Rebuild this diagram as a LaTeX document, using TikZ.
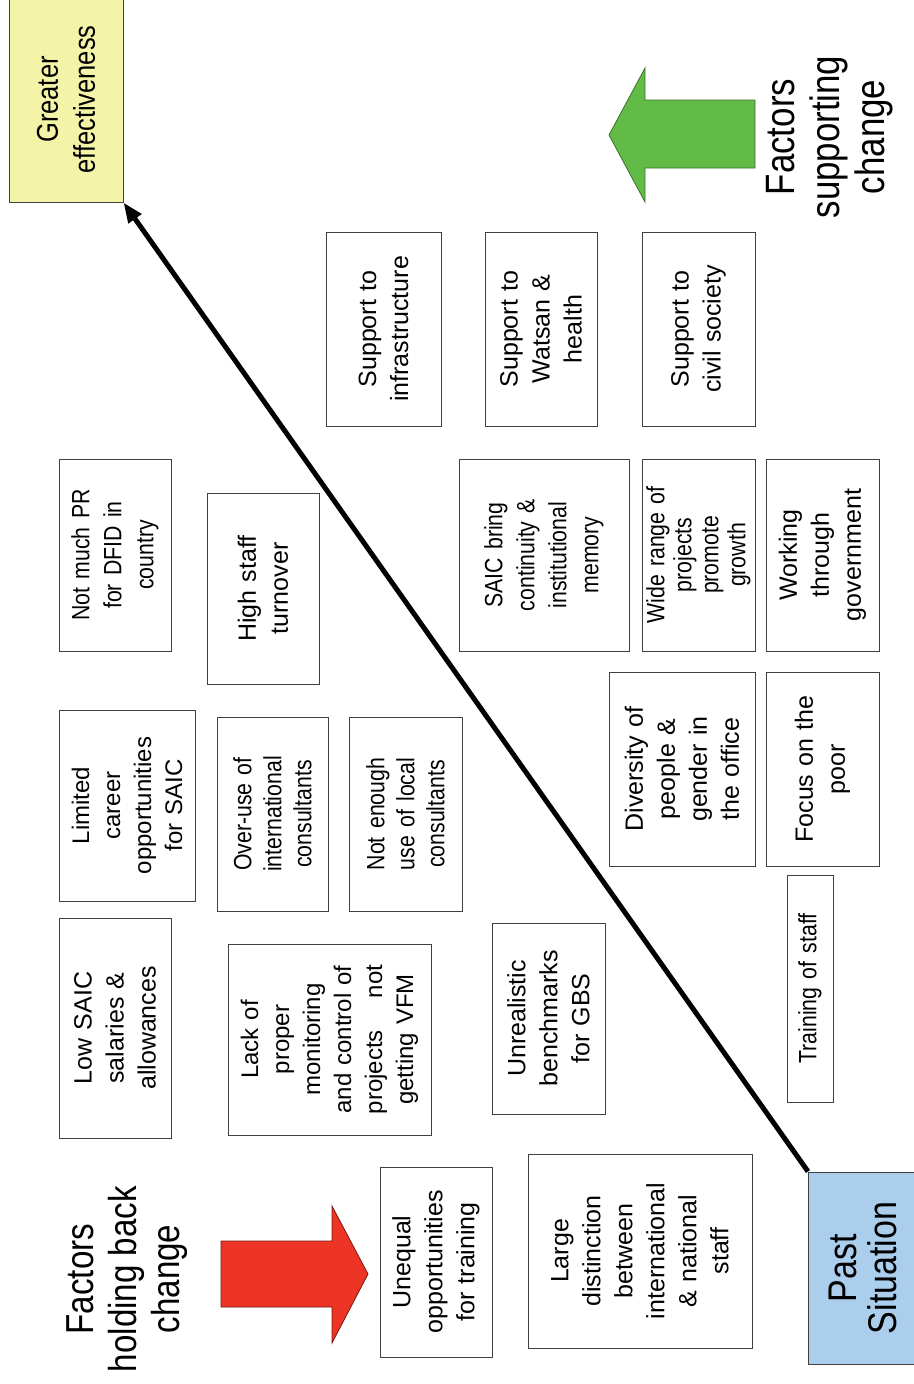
\documentclass[tikz,border=0pt]{standalone}
\usepackage{fontspec}
\setmainfont{Liberation Sans}
\newfontfamily\narrowfont[FakeStretch=0.85]{Liberation Sans}
\usetikzlibrary{arrows.meta}
\definecolor{goalyellow}{RGB}{244,244,168}
\definecolor{pastblue}{RGB}{170,206,236}
\definecolor{supgreen}{RGB}{98,187,70}
\definecolor{holdred}{RGB}{238,52,36}
\definecolor{boxgray}{RGB}{64,64,64}

\begin{document}
\begin{tikzpicture}[x=1pt,y=-1pt,>={Triangle[length=20pt,width=15pt]},
  factor/.style={draw=boxgray,line width=1pt,rotate=90,align=center,inner sep=2pt,font=\fontsize{25}{32}\selectfont},
  narrow/.style={font=\narrowfont\fontsize{25}{#1}\selectfont},
  heading/.style={rotate=90,align=center,inner sep=0pt}]
\useasboundingbox (0,0) rectangle (913,1384);

% start and goal
\node[factor,fill=goalyellow,minimum width=205pt,minimum height=114pt,text width=190pt,font=\narrowfont\fontsize{30}{37}\selectfont] (goal) at (66,99.5) {Greater\\effectiveness};
\node[factor,fill=pastblue,minimum width=192pt,minimum height=108pt,text width=180pt,font=\narrowfont\fontsize{40}{40}\selectfont] (past) at (862.5,1268) {Past\\Situation};
\draw[->,line width=5pt] (past.north east) -- (goal.south west);

% the two block arrows
\draw[draw=supgreen!60!black,line width=0.8pt,fill=supgreen] (755,100) -- (645,100) -- (645,68) -- (609,135) -- (645,202) -- (645,168) -- (755,168) -- cycle;
\draw[draw=holdred!50!black,line width=0.8pt,fill=holdred] (221,1241) -- (332,1241) -- (332,1206) -- (368,1274) -- (332,1343) -- (332,1307) -- (221,1307) -- cycle;
\node[heading,font=\narrowfont\fontsize{41}{45}\selectfont] (supporting) at (830,137) {Factors\\supporting\\change};
\node[heading,font=\narrowfont\fontsize{39}{43}\selectfont] (holding) at (127,1279) {Factors\\holding back\\change};

% factors supporting change
\node[factor,minimum width=194pt,minimum height=115pt,text width=184pt] (infra) at (383.5,329) {Support to\\infrastructure};
\node[factor,minimum width=194pt,minimum height=112pt,text width=184pt] (watsan) at (541,329) {Support to\\Watsan \&\\health};
\node[factor,minimum width=194pt,minimum height=113pt,text width=184pt] (civil) at (698.5,329) {Support to\\civil society};
\node[factor,narrow=32,minimum width=192pt,minimum height=170pt,text width=182pt] (memory) at (544,555) {SAIC bring\\continuity \&\\institutional\\memory};
\node[factor,narrow=27,minimum width=192pt,minimum height=113pt,text width=182pt] (growth) at (698.5,555) {Wide range of\\projects\\promote\\growth};
\node[factor,minimum width=192pt,minimum height=113pt,text width=182pt] (govt) at (822.5,555) {Working\\through\\government};
\node[factor,minimum width=194pt,minimum height=146pt,text width=184pt] (diversity) at (682,769) {Diversity of\\people \&\\gender in\\the office};
\node[factor,minimum width=194pt,minimum height=113pt,text width=184pt] (poor) at (822.5,769) {Focus on the\\poor};
\node[factor,narrow=26,minimum width=227pt,minimum height=46pt,text width=217pt] (training) at (810,988.5) {Training of staff};

% factors holding back change
\node[factor,narrow=32,minimum width=192pt,minimum height=112pt,text width=182pt] (pr) at (115,555) {Not much PR\\for DFID in\\country};
\node[factor,minimum width=191pt,minimum height=112pt,text width=181pt] (turnover) at (263,588.5) {High staff\\turnover};
\node[factor,minimum width=191pt,minimum height=136pt,text width=181pt,font=\fontsize{24}{31}\selectfont] (career) at (127,805.5) {Limited\\career\\opportunities\\for SAIC};
\node[factor,narrow=30,minimum width=194pt,minimum height=111pt,text width=184pt] (overuse) at (272.5,814) {Over-use of\\international\\consultants};
\node[factor,narrow=30,minimum width=194pt,minimum height=113pt,text width=184pt] (local) at (405.5,814) {Not enough\\use of local\\consultants};
\node[factor,minimum width=220pt,minimum height=112pt,text width=210pt] (salaries) at (115,1028) {Low SAIC\\salaries \&\\allowances};
\node[factor,minimum width=191pt,minimum height=203pt,text width=181pt,font=\fontsize{24}{31}\selectfont] (vfm) at (329.5,1039.5) {Lack of\\proper\\monitoring\\and control of\\projects\hspace{1em} not\\getting VFM};
\node[factor,minimum width=191pt,minimum height=113pt,text width=181pt] (gbs) at (548.5,1018.5) {Unrealistic\\benchmarks\\for GBS};
\node[factor,minimum width=190pt,minimum height=112pt,text width=180pt] (unequal) at (436,1262) {Unequal\\opportunities\\for training};
\node[factor,minimum width=194pt,minimum height=224pt,text width=184pt] (distinction) at (640,1251) {Large\\distinction\\between\\international\\\& national\\staff};
\end{tikzpicture}
\end{document}
